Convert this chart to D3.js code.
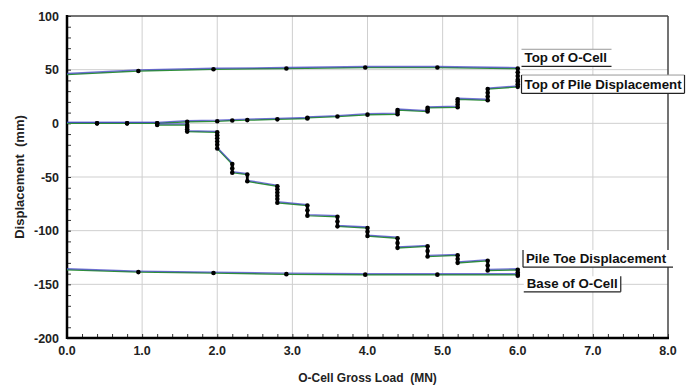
<!DOCTYPE html>
<html><head><meta charset="utf-8">
<script src="https://cdn.jsdelivr.net/npm/d3@7"></script>
<style>
body{margin:0;background:#fff}
svg{display:block}
text{font-family:"Liberation Sans",Arial,sans-serif;font-weight:bold}
</style>
</head><body>
<svg id="c" width="697" height="387"></svg>
<script>
// ---- data ----
const xTicks = [0,1,2,3,4,5,6,7,8];
const xTickLabels = ["0.0","1.0","2.0","3.0","4.0","5.0","6.0","7.0","8.0"];
const yTicks = [100,50,0,-50,-100,-150,-200];
const yTickLabels = ["100","50","0","-50","-100","-150","-200"];

const topCellLoad = [0,0.95,1.95,2.92,3.97,4.93,6.0,6.0,6.0,6.0];
const topCellDisp = [45.5,48.8,50.4,51.1,52.0,52.0,51.0,47.5,44.0,40.5];

const topPileLoad = [0,0.4,0.8,1.2,1.6,2.0,2.2,2.4,2.8,3.2,3.2,3.6,4.0,4.4,4.4,4.4,4.8,4.8,4.8,5.2,5.2,5.2,5.2,5.6,5.6,5.6,5.6,6.0,6.0,6.0];
const topPileDisp = [0,0,0,0,1.5,2.0,2.6,3.0,3.7,4.5,5.2,6.3,8.1,8.5,10.5,12.4,11.0,12.8,14.5,15.0,17.5,20.0,22.4,21.5,25.0,28.5,32.0,34.0,36.5,39.0];

const toeLoad = [0,0.4,0.8,1.2,1.2,1.6,1.6,1.6,1.6,2.0,2.0,2.0,2.0,2.0,2.0,2.2,2.2,2.2,2.4,2.4,2.8,2.8,2.8,2.8,2.8,2.8,3.2,3.2,3.2,3.6,3.6,3.6,4.0,4.0,4.0,4.4,4.4,4.4,4.8,4.8,4.8,5.2,5.2,5.2,5.6,5.6,5.6,6.0,6.0,6.0];
const toeDisp = [0,0,0,0,-1.5,-1.5,-3.5,-5.5,-7.7,-8.4,-11,-14,-17,-20,-23.4,-38,-42,-46,-47.7,-54,-58.6,-61.5,-64.5,-67.5,-70.5,-74,-76.6,-81,-86,-87,-91.5,-96,-97.5,-101,-105,-107,-111.5,-116,-114.6,-119,-124,-123,-126.5,-130,-128,-132.5,-137,-136.4,-139,-142];

const baseCellLoad = [0,0.95,1.95,2.92,3.97,4.93,6.0];
const baseCellDisp = [-136.4,-138.6,-139.5,-140.5,-141.0,-141.0,-141.0];

const seriesNames = ["Top of O-Cell","Top of Pile Displacement","Pile Toe Displacement","Base of O-Cell"];

// ---- layout ----
const svg = d3.select("#c");
const L = 67, R = 668, T = 16, B = 338;
const x = d3.scaleLinear().domain([0,8]).range([L,R]);
const y = d3.scaleLinear().domain([-200,100]).range([B,T]);

// grid
const g = svg.append("g");
g.selectAll(".vg").data(xTicks.slice(1,-1)).join("line")
  .attr("x1",d=>x(d)).attr("x2",d=>x(d)).attr("y1",T).attr("y2",B)
  .attr("stroke","#cfcfcf").attr("stroke-width",1);
g.selectAll(".hg").data(yTicks.slice(1,-1)).join("line")
  .attr("y1",d=>y(d)).attr("y2",d=>y(d)).attr("x1",L).attr("x2",R)
  .attr("stroke","#cfcfcf").attr("stroke-width",1);

// frame top/right
svg.append("line").attr("x1",L).attr("x2",R).attr("y1",T).attr("y2",T).attr("stroke","#444").attr("stroke-width",1.5);
svg.append("line").attr("x1",R).attr("x2",R).attr("y1",T).attr("y2",B).attr("stroke","#444").attr("stroke-width",1.5);

// axes with inward ticks
const xMinor = d3.range(0,8.001,0.2);
const yMinor = d3.range(-200,100.001,10);
const xAxis = d3.axisTop(x).tickValues(xMinor).tickSize(4).tickFormat("");
const yAxis = d3.axisRight(y).tickValues(yMinor).tickSize(4).tickFormat("");
const gx = svg.append("g").attr("transform",`translate(0,${B})`).call(xAxis);
const gy = svg.append("g").attr("transform",`translate(${L},0)`).call(yAxis);
[gx,gy].forEach(a=>{a.select(".domain").remove(); a.selectAll("line").attr("stroke","#333");});
svg.append("line").attr("x1",L).attr("x2",R+1).attr("y1",B).attr("y2",B).attr("stroke","#000").attr("stroke-width",2.5);
svg.append("line").attr("x1",L).attr("x2",L).attr("y1",T-1).attr("y2",B+1).attr("stroke","#000").attr("stroke-width",2.5);

// tick labels
svg.selectAll(".xl").data(xTicks).join("text")
  .attr("x",d=>x(d)).attr("y",B+17).attr("text-anchor","middle")
  .attr("font-size",12.5).attr("fill","#222").text((d,i)=>xTickLabels[i]);
svg.selectAll(".yl").data(yTicks).join("text")
  .attr("x",L-8).attr("y",d=>y(d)+4.5).attr("text-anchor","end")
  .attr("font-size",12.5).attr("fill","#222").text((d,i)=>yTickLabels[i]);

// axis titles
svg.append("text").attr("x",(L+R)/2).attr("y",382).attr("text-anchor","middle")
  .attr("font-size",12).attr("fill","#222").attr("xml:space","preserve").text("O-Cell Gross Load  (MN)");
svg.append("text").attr("transform",`translate(24,${(T+B)/2}) rotate(-90)`).attr("text-anchor","middle")
  .attr("font-size",13).attr("fill","#222").attr("xml:space","preserve").text("Displacement  (mm)");

// series
const series = [
  [topCellLoad, topCellDisp],
  [topPileLoad, topPileDisp],
  [toeLoad, toeDisp],
  [baseCellLoad, baseCellDisp]
];
const line = d3.line().x(d=>x(d[0])).y(d=>y(d[1]));
series.forEach(([ld,dp])=>{
  const pts = ld.map((v,i)=>[v,dp[i]]);
  svg.append("path").attr("d",line(pts)).attr("fill","none")
    .attr("stroke","#2f8f3a").attr("stroke-width",1.5);
  svg.append("path").attr("d",line(pts)).attr("fill","none")
    .attr("transform","translate(0,-1)")
    .attr("stroke","#4646c8").attr("stroke-width",1.3).attr("stroke-opacity",0.75);
  for(let i=1;i<pts.length;i++){
    if(pts[i][0]===pts[i-1][0]){
      svg.append("line").attr("x1",x(pts[i][0])).attr("x2",x(pts[i][0]))
        .attr("y1",y(pts[i-1][1])).attr("y2",y(pts[i][1]))
        .attr("stroke","#000").attr("stroke-width",2.8);
    }
  }
  svg.append("g").selectAll("circle").data(pts.filter(p=>p[0]>0)).join("circle")
    .attr("cx",d=>x(d[0])).attr("cy",d=>y(d[1])).attr("r",2.3).attr("fill","#000");
});

// callout labels
function label(name, lx, ly, w, h, borders){
  const gg = svg.append("g");
  gg.append("rect").attr("x",lx).attr("y",ly).attr("width",w).attr("height",h).attr("fill","#fff");
  gg.append("text").attr("x",lx+3).attr("y",ly+h-4).attr("font-size",13.3).attr("fill","#111").text(name);
  if(borders.includes("t")) gg.append("line").attr("x1",lx).attr("x2",lx+w).attr("y1",ly).attr("y2",ly).attr("stroke","#999").attr("stroke-width",1);
  if(borders.includes("b")) gg.append("line").attr("x1",lx).attr("x2",lx+w).attr("y1",ly+h).attr("y2",ly+h).attr("stroke","#222").attr("stroke-width",1.2);
  if(borders.includes("l")) gg.append("line").attr("x1",lx).attr("x2",lx).attr("y1",ly).attr("y2",ly+h).attr("stroke","#222").attr("stroke-width",1.2);
  if(borders.includes("r")) gg.append("line").attr("x1",lx+w).attr("x2",lx+w).attr("y1",ly).attr("y2",ly+h).attr("stroke","#222").attr("stroke-width",1.2);
}
label(seriesNames[0], x(6.05), y(69), 90, y(53)-y(69), "tb");
label(seriesNames[1], x(6.05), y(45), 163, y(28)-y(45), "tblr");
label(seriesNames[2], x(6.07), y(-118), 150, y(-134)-y(-118), "lb");
label(seriesNames[3], x(6.08), y(-142.5), 97, y(-157)-y(-142.5), "rb");
</script>
</body></html>
